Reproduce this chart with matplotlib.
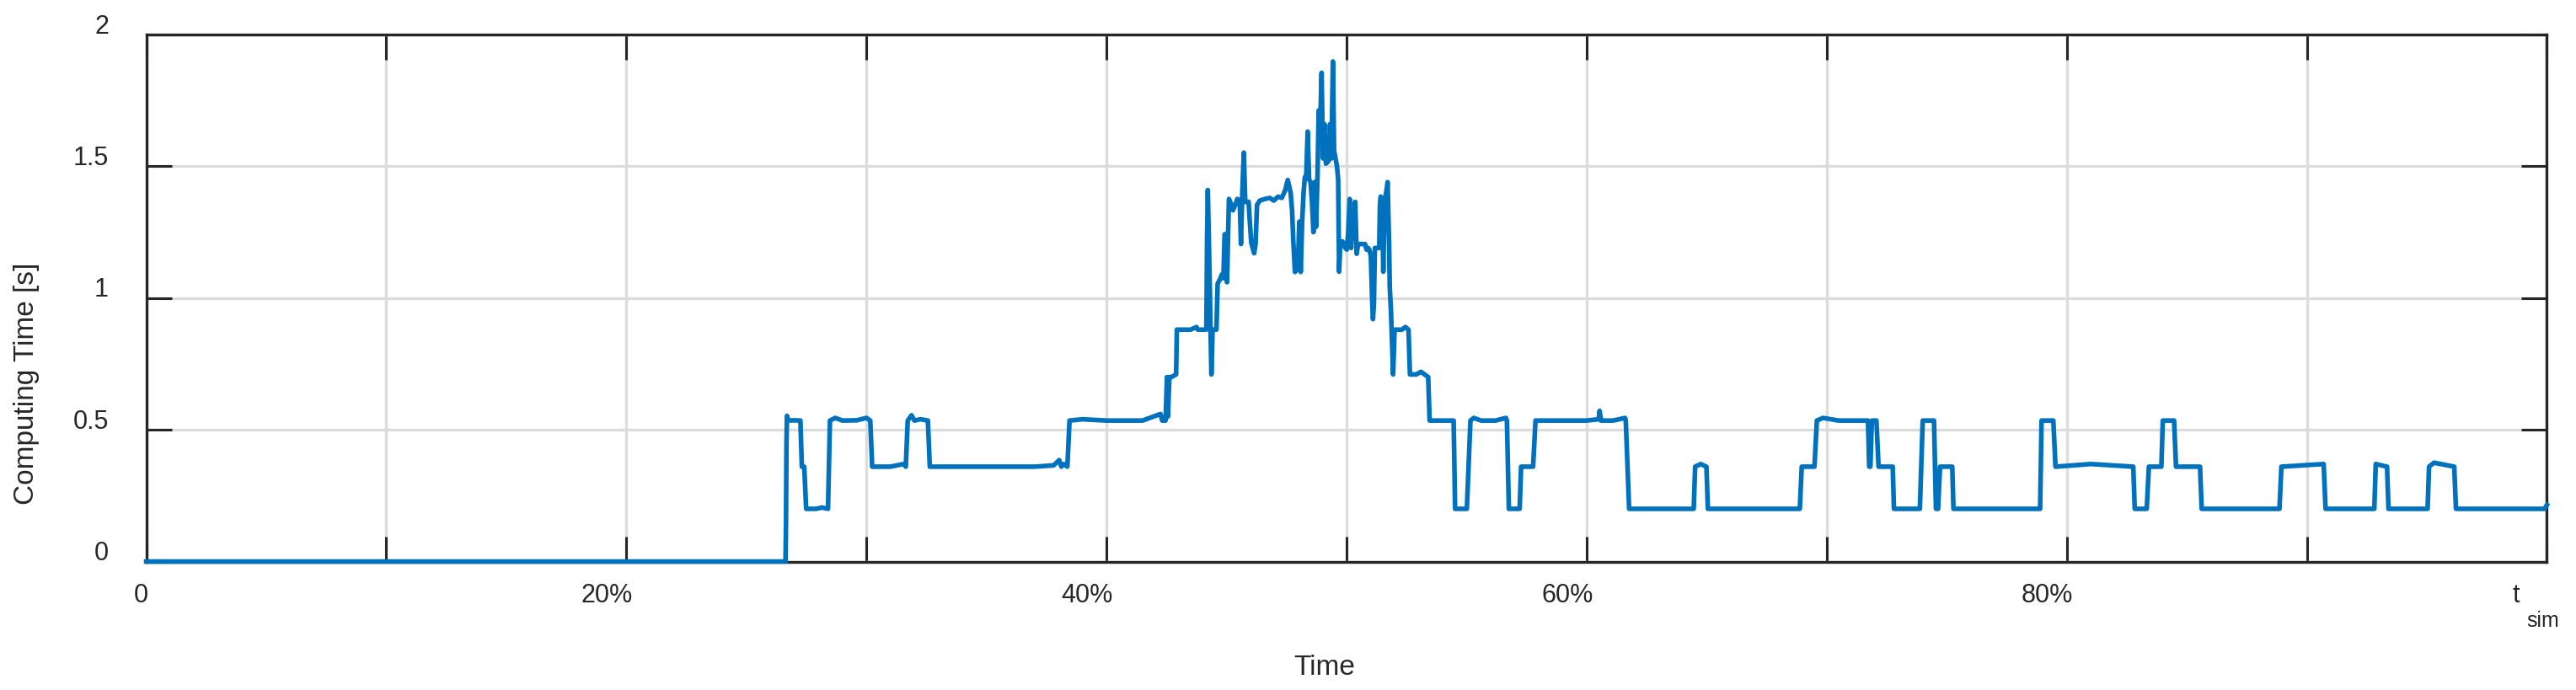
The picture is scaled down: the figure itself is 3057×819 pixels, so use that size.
import matplotlib
matplotlib.use("Agg")
import matplotlib.pyplot as plt
from matplotlib.transforms import ScaledTranslation

plt.rcParams['font.family'] = ['Liberation Sans', 'DejaVu Sans']

# simulation time as fraction of t_sim, computing time per step in seconds
sim_time = [
    0.0, 0.2663, 0.2665, 0.2667, 0.2669, 0.2675, 0.2700, 0.2725, 0.2731, 0.2741,
    0.2749, 0.2790, 0.2815, 0.2840, 0.2848, 0.2870, 0.2900, 0.2960, 0.3000, 0.3016,
    0.3024, 0.3100, 0.3155, 0.3164, 0.3172, 0.3188, 0.3200, 0.3225, 0.3256, 0.3264,
    0.3500, 0.3700, 0.3780, 0.3803, 0.3812, 0.3822, 0.3837, 0.3846, 0.3900, 0.4000,
    0.4100, 0.4150, 0.4225, 0.4232, 0.4246, 0.4252, 0.4256, 0.4262, 0.4270, 0.4290,
    0.4293, 0.4350, 0.4375, 0.4380, 0.4416, 0.4419, 0.4422, 0.4428, 0.4437, 0.4442,
    0.4458, 0.4463, 0.4472, 0.4481, 0.4487, 0.4492, 0.4498, 0.4502, 0.4510, 0.4520,
    0.4527, 0.4537, 0.4545, 0.4555, 0.4560, 0.4566, 0.4572, 0.4578, 0.4592, 0.4597,
    0.4603, 0.4615, 0.4621, 0.4627, 0.4639, 0.4660, 0.4680, 0.4697, 0.4715, 0.4730,
    0.4744, 0.4755, 0.4767, 0.4773, 0.4778, 0.4785, 0.4797, 0.4803, 0.4809, 0.4815,
    0.4821, 0.4826, 0.4832, 0.4838, 0.4844, 0.4850, 0.4856, 0.4862, 0.4867, 0.4873,
    0.4879, 0.4884, 0.4890, 0.4896, 0.4902, 0.4908, 0.4914, 0.4925, 0.4931, 0.4937,
    0.4943, 0.4948, 0.4954, 0.4960, 0.4965, 0.4969, 0.4974, 0.4983, 0.4995, 0.5001,
    0.5007, 0.5013, 0.5019, 0.5024, 0.5030, 0.5036, 0.5042, 0.5048, 0.5060, 0.5077,
    0.5083, 0.5090, 0.5095, 0.5101, 0.5107, 0.5110, 0.5114, 0.5118, 0.5136, 0.5139,
    0.5142, 0.5148, 0.5153, 0.5159, 0.5165, 0.5171, 0.5177, 0.5180, 0.5185, 0.5194,
    0.5200, 0.5230, 0.5245, 0.5258, 0.5264, 0.5290, 0.5310, 0.5340, 0.5346, 0.5400,
    0.5446, 0.5452, 0.5501, 0.5516, 0.5530, 0.5560, 0.5620, 0.5664, 0.5668, 0.5676,
    0.5721, 0.5727, 0.5777, 0.5787, 0.5900, 0.6000, 0.6050, 0.6054, 0.6060, 0.6110,
    0.6160, 0.6163, 0.6177, 0.6300, 0.6446, 0.6452, 0.6475, 0.6499, 0.6505, 0.6600,
    0.6888, 0.6896, 0.6949, 0.6959, 0.6985, 0.7050, 0.7172, 0.7177, 0.7182, 0.7188,
    0.7207, 0.7216, 0.7275, 0.7280, 0.7388, 0.7400, 0.7447, 0.7455, 0.7464, 0.7472,
    0.7523, 0.7528, 0.7700, 0.7889, 0.7895, 0.7944, 0.7953, 0.8100, 0.8277, 0.8283,
    0.8333, 0.8342, 0.8394, 0.8400, 0.8447, 0.8455, 0.8555, 0.8562, 0.8886, 0.8894,
    0.9070, 0.9078, 0.9281, 0.9287, 0.9334, 0.9340, 0.9503, 0.9509, 0.9530, 0.9614,
    0.9621, 0.9990, 1.0,
]
comp_time = [
    0.0, 0.0, 0.15, 0.45, 0.553, 0.535, 0.536, 0.535, 0.36, 0.36,
    0.2, 0.2, 0.205, 0.2, 0.535, 0.545, 0.535, 0.536, 0.545, 0.535,
    0.36, 0.36, 0.37, 0.36, 0.535, 0.555, 0.535, 0.54, 0.535, 0.36,
    0.36, 0.36, 0.365, 0.385, 0.36, 0.37, 0.36, 0.535, 0.54, 0.535,
    0.535, 0.535, 0.56, 0.535, 0.535, 0.70, 0.55, 0.70, 0.70, 0.71,
    0.88, 0.88, 0.89, 0.88, 0.88, 1.23, 1.41, 1.15, 0.71, 0.88,
    0.88, 1.055, 1.07, 1.09, 1.075, 1.242, 1.242, 1.06, 1.376, 1.355,
    1.333, 1.355, 1.376, 1.37, 1.205, 1.408, 1.552, 1.365, 1.365, 1.29,
    1.21, 1.17, 1.205, 1.354, 1.37, 1.376, 1.38, 1.37, 1.385, 1.38,
    1.408, 1.448, 1.40, 1.333, 1.22, 1.099, 1.11, 1.29, 1.099, 1.29,
    1.40, 1.458, 1.465, 1.632, 1.45, 1.44, 1.365, 1.25, 1.44, 1.27,
    1.465, 1.712, 1.65, 1.855, 1.53, 1.66, 1.51, 1.52, 1.66, 1.53,
    1.898, 1.56, 1.53, 1.50, 1.45, 1.10, 1.21, 1.215, 1.19, 1.184,
    1.25, 1.376, 1.19, 1.29, 1.29, 1.365, 1.168, 1.205, 1.205, 1.205,
    1.184, 1.19, 1.184, 1.16, 0.98, 0.92, 0.98, 1.19, 1.19, 1.354,
    1.385, 1.37, 1.10, 1.376, 1.40, 1.44, 1.21, 1.04, 0.95, 0.71,
    0.88, 0.88, 0.89, 0.88, 0.71, 0.71, 0.72, 0.70, 0.535, 0.535,
    0.535, 0.2, 0.2, 0.535, 0.545, 0.535, 0.535, 0.545, 0.535, 0.2,
    0.2, 0.36, 0.36, 0.535, 0.535, 0.535, 0.54, 0.572, 0.535, 0.535,
    0.545, 0.535, 0.2, 0.2, 0.2, 0.36, 0.37, 0.36, 0.2, 0.2,
    0.2, 0.36, 0.36, 0.535, 0.545, 0.535, 0.535, 0.36, 0.36, 0.535,
    0.535, 0.36, 0.36, 0.2, 0.2, 0.535, 0.535, 0.2, 0.2, 0.36,
    0.36, 0.2, 0.2, 0.2, 0.535, 0.535, 0.36, 0.37, 0.36, 0.2,
    0.2, 0.36, 0.36, 0.535, 0.535, 0.36, 0.36, 0.2, 0.2, 0.36,
    0.37, 0.2, 0.2, 0.37, 0.36, 0.2, 0.2, 0.36, 0.375, 0.36,
    0.2, 0.2, 0.215,
]

x_ticks = [0.0, 0.1, 0.2, 0.3, 0.4, 0.5, 0.6, 0.7, 0.8, 0.9, 1.0]
x_labels = ['0', '', '20%', '', '40%', '', '60%', '', '80%', '', 't']
y_ticks = [0, 0.5, 1, 1.5, 2]
y_labels = ['0', '0.5', '1', '1.5', '2']

dark = '#262626'
fig = plt.figure(figsize=(15.285, 4.095), dpi=200)
ax = fig.add_axes([0.05676, 0.1862, 0.93195, 0.7637])

ax.plot(sim_time, comp_time, color='#0072BD', lw=2.0, zorder=3, clip_on=False)

ax.set_xlim(0, 1)
ax.set_ylim(0, 2)
ax.set_xticks(x_ticks)
ax.set_xticklabels(x_labels)
ax.set_yticks(y_ticks)
ax.set_yticklabels(y_labels)
ax.grid(True, color='#dcdcdc', lw=1.2)
ax.set_axisbelow(True)

ax.tick_params(direction='in', length=10.8, width=1.1, colors=dark,
               top=True, right=True, labelsize=11)
ax.tick_params(axis='y', pad=16)
ax.tick_params(axis='x', pad=9)
for sp in ax.spines.values():
    sp.set_color(dark)
    sp.set_linewidth(1.2)

# MATLAB-like label offsets
for lab in ax.get_yticklabels():
    lab.set_transform(lab.get_transform() + ScaledTranslation(0, 13 / 200, fig.dpi_scale_trans))
shifts = [-6, 0, -23, 0, -23, 0, -23, 0, -23, 0, -37]
for lab, dx in zip(ax.get_xticklabels(), shifts):
    lab.set_transform(lab.get_transform() + ScaledTranslation(dx / 200, 0, fig.dpi_scale_trans))
# subscript of the t_sim tick label
ax.text(0.9984, -0.1127, 'sim', transform=ax.transAxes, fontsize=9,
        color=dark, ha='center', va='center')

ax.set_xlabel('Time', fontsize=12, color=dark, va='center')
ax.set_ylabel('Computing Time [s]', fontsize=12, color=dark, va='center')
ax.xaxis.set_label_coords(0.4909, -0.2022)
ax.yaxis.set_label_coords(-0.0497, 0.338)

fig.savefig('out.png', dpi=200)
